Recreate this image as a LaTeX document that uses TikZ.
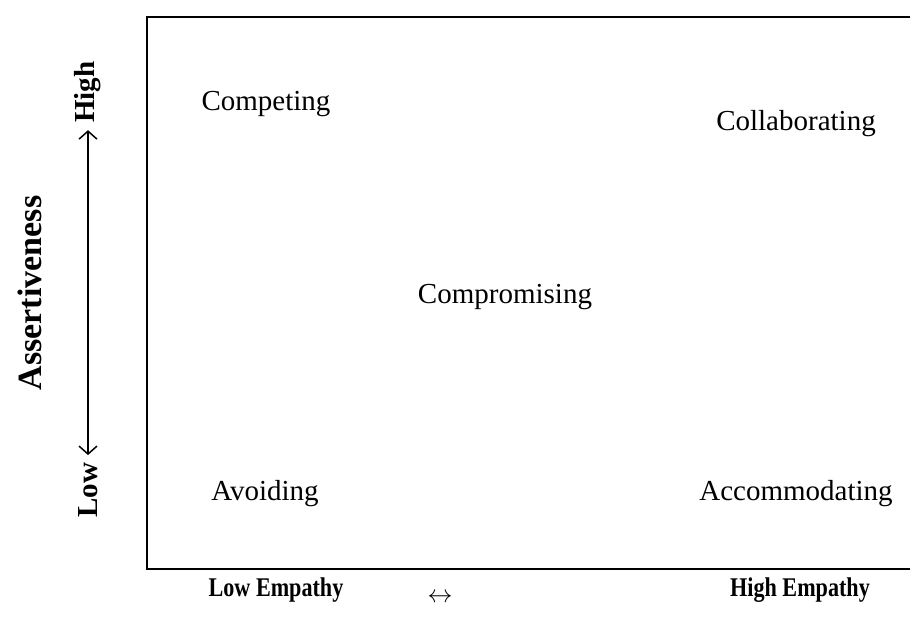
\documentclass[tikz,border=0pt]{standalone}
\usepackage{fontspec}
\setmainfont{Liberation Serif}
\usetikzlibrary{arrows.meta}

\begin{document}
\begin{tikzpicture}[x=1pt,y=-1pt,
    quadrant/.style={font=\fontsize{29}{31}\selectfont},
    axislabel/.style={font=\bfseries\fontsize{29}{31}\selectfont},
    empathylabel/.style={font=\bfseries\fontsize{27}{29}\selectfont, xscale=0.82}]
\useasboundingbox (0,0) rectangle (910,632);

% the grid frame, open on the right
\draw [line width=1.6pt] (912,17) -- (147,17) -- (147,569) -- (912,569);

\node [quadrant] (Competing) at (266,104) {Competing};
\node [quadrant] (Collaborating) at (796,124) {Collaborating};
\node [quadrant] (Compromising) at (505,297) {Compromising};
\node [quadrant] (Avoiding) at (265,494) {Avoiding};
\node [quadrant] (Accommodating) at (796,494) {Accommodating};

% vertical axis
\node [axislabel, rotate=90, font=\bfseries\fontsize{34}{36}\selectfont] (Assert) at (30,293) {Assertiveness};
\node [axislabel, rotate=90] (Low) at (88,490) {Low};
\node [axislabel, rotate=90] (High) at (88,92) {High};
\draw [line width=1.3pt, shorten <=4pt, shorten >=4pt,
    {Straight Barb[length=8pt,width=18pt,line width=1.5pt]}-{Straight Barb[length=8pt,width=18pt,line width=1.5pt]}]
    (Low.east) -- (High.west);

% horizontal axis
\node [empathylabel] (LowEmp) at (276,590) {Low Empathy};
\node [font=\fontsize{24}{26}\selectfont] (Both) at (440,598) {$\leftrightarrow$};
\node [empathylabel] (HighEmp) at (800,590) {High Empathy};
\end{tikzpicture}
\end{document}
